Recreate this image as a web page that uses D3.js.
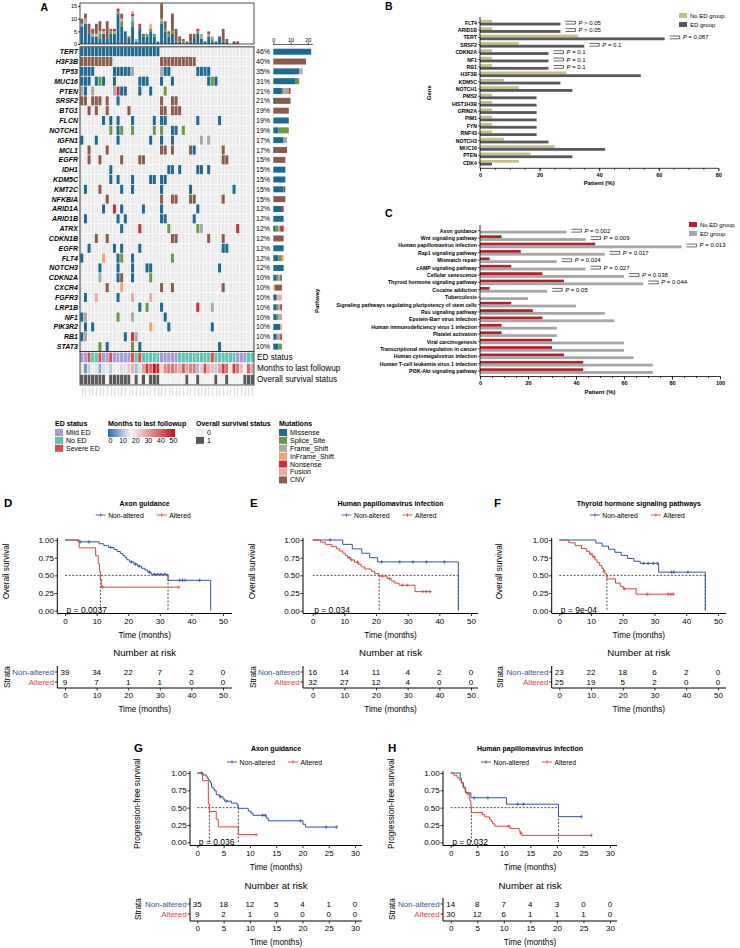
<!DOCTYPE html>
<html>
<head>
<meta charset="utf-8">
<script src="https://cdn.jsdelivr.net/npm/d3@7"></script>
<style>
  body { margin: 0; background: #fff; }
  svg { display: block; }
</style>
</head>
<body>
<svg id="fig" width="740" height="948"></svg>
<script>
// ---------------- panel A : oncoprint ----------------
var genesA = ["TERT", "H3F3B", "TP53", "MUC16", "PTEN", "SRSF2", "BTG1", "FLCN", "NOTCH1", "IGFN1", "MCL1",
    "EGFR", "IDH1", "KDM5C", "KMT2C", "NFKBIA", "ARID1A", "ARID1B", "ATRX", "CDKN1B", "EGFR", "FLT4",
    "NOTCH3", "CDKN2A", "CXCR4", "FGFR3", "LRP1B", "NF1", "PIK3R2", "RB1", "STAT3"];
var pctA = ["46%", "40%", "35%", "31%", "21%", "21%", "19%", "19%", "19%", "17%", "17%", "15%", "15%", "15%",
    "15%", "15%", "12%", "12%", "12%", "12%", "12%", "12%", "12%", "10%", "10%", "10%", "10%", "10%", "10%", "10%", "10%"];
// one character per sample: M missense, S splice, F frame shift, I inframe, N nonsense, U fusion, C CNV
var oncoRows = [
    "MMMMMMMMMMMMMMMMMMMMMM",
    "CCCCCCCCC.............CCCCCCCCCC",
    "MMMM.....MMMMMF.......FMM.......MMMM",
    "MMM.MSM..M......MMM...M..M.........MSM",
    "FM.F.....FNMM...M..M...S",
    "CC.CCC.C..M...........C..CC",
    "..C.C..C.....C........CC.CCC",
    "......M.M.M...M.....M.MM........M.....M",
    "........S.MS..S.....S.S..MM.S",
    "M...M.....M........M..M..M.......F.F",
    "..C....C..............CC.C....CM.......C",
    "..C..C.....C....CC.....................CC",
    "........M...............MM.M....MM.M",
    "........M.M...M....MM.MM",
    ".M...C.....M..M.......M.......M...........M",
    ".......C..............C..CC...CC.......C",
    "......M..N.M.....M....M.........M",
    ".M........M.M.........MM.......M",
    "...........M....N.......S.......SF.........N",
    "....C..C.................CC........C...C",
    "..M......M.M....M......................MM",
    "M.....I...MS..M..........S",
    ".....M....M...M...MM..................M",
    ".....F....MC..M....S",
    ".......C...I..........C..C.............C",
    ".M..U.....M...U....U",
    "................M.S...M.........N...F",
    "MF........S...F........M",
    ".M.M...............I....M...........M",
    "MF..........M.NF",
    ".....S.M......S.M.....................M"
].map(function(s) { return s.padEnd(48, "."); });

var mutTypes = ["Missense", "Splice_Site", "Frame_Shift", "InFrame_Shift", "Nonsense", "Fusion", "CNV"];
var mutCodes = ["M", "S", "F", "I", "N", "U", "C"];
var mutColors = ["#1c6a92", "#6a9a40", "#a9a9a9", "#f4a468", "#d8283a", "#f2a6a6", "#8b5a4c"];

var edStatus = "mmsnnsmmsmmmmmsnsnnnnnmmmmmnnnnnnnnnsnnnnnnmmmnn";
var edCodes = ["m", "n", "s"];
var edNames = ["Mild ED", "No ED", "Severe ED"];
var edColors = ["#a49cd2", "#5fc5b2", "#e04a4c"];
var monthsFollow = [20, 6, 12, 18, 15, 8, 14, 20, 12, 16, 19, 22, 15, 24, 27, 10, 14, 30, 46, 38,
    50, 47, 22, 33, 35, 36, 32, 28, 40, 30, 34, 36, 10, 24, 42, 28, 26, 12, 30, 44, 37, 20, 45, 36, 26, 18, 38, 30];
var osStatus = "111111101111110101011100000001001000010010000111";
var sampleIds = ("DIPG-01 DIPG-02 DIPG-03 DIPG-04 DIPG-05 DIPG-06 DIPG-07 DIPG-08 DIPG-09 DIPG-10 DIPG-11 DIPG-12 " +
    "DIPG-13 DIPG-14 DIPG-15 DIPG-16 DIPG-17 DIPG-18 DIPG-19 DIPG-20 DIPG-21 DIPG-22 DIPG-23 DIPG-24 " +
    "DIPG-25 DIPG-26 DIPG-27 DIPG-28 DIPG-29 DIPG-30 DIPG-31 DIPG-32 DIPG-33 DIPG-34 DIPG-35 DIPG-36 " +
    "DIPG-37 DIPG-38 DIPG-39 DIPG-40 DIPG-41 DIPG-42 DIPG-43 DIPG-44 DIPG-45 DIPG-46 DIPG-47 DIPG-48").split(" ");

// ---------------- panel B ----------------
var genesB = ["FLT4", "ARID1B", "TERT", "SRSF2", "CDKN2A", "NF1", "RB1", "H3F3B", "KDM5C", "NOTCH1", "PMS2",
    "HIST1H3B", "GRIN2A", "PIM1", "FYN", "RNF43", "NOTCH3", "MUC16", "PTEN", "CDK4"];
var noEdB = [4, 4, 33, 13, 4, 4, 4, 29, 8, 13, 4, 4, 4, 4, 4, 4, 8, 25, 17, 13];
var edB = [27, 27, 62, 35, 23, 23, 23, 54, 27, 31, 19, 19, 19, 19, 19, 19, 23, 42, 31, 4];
var pB = ["> 0.05", "> 0.05", "= 0.087", "= 0.1", "= 0.1", "= 0.1", "= 0.1", "", "", "", "", "", "", "", "", "", "", "", "", ""];

// ---------------- panel C ----------------
var pathwaysC = ["Axon guidance", "Wnt signaling pathway", "Human papillomavirus infection", "Rap1 signaling pathway",
    "Mismatch repair", "cAMP signaling pathway", "Cellular senescence", "Thyroid hormone signaling pathway",
    "Cocaine addiction", "Tuberculosis", "Signaling pathways regulating pluripotency of stem cells",
    "Ras signaling pathway", "Epstein-Barr virus infection", "Human immunodeficiency virus 1 infection",
    "Platelet activation", "Viral carcinogenesis", "Transcriptional misregulation in cancer",
    "Human cytomegalovirus infection", "Human T-cell leukemia virus 1 infection", "PI3K-Akt signaling pathway"];
var noEdC = [0, 9, 48, 17, 4, 13, 26, 35, 4, 0, 13, 22, 26, 9, 9, 30, 30, 35, 43, 43];
var edC = [36, 44, 84, 52, 32, 44, 60, 68, 28, 20, 40, 52, 56, 32, 32, 60, 60, 64, 72, 72];
var pC = ["= 0.002", "= 0.009", "= 0.013", "= 0.017", "= 0.024", "= 0.027", "= 0.038", "= 0.044", "= 0.05",
    "", "", "", "", "", "", "", "", "", "", ""];

// ---------------- survival panels D-H : [time, survival] steps ----------------
var kmD_non = [[0, 1], [4.2, 0.974], [10.8, 0.947], [12.3, 0.92], [13.8, 0.894], [15.5, 0.866], [16.5, 0.838],
    [17.5, 0.81], [18.3, 0.78], [19.0, 0.75], [19.6, 0.72], [20.4, 0.69], [21.8, 0.66], [23.0, 0.63], [24.2, 0.60],
    [25.3, 0.575], [26.2, 0.545], [27.2, 0.515], [32.6, 0.43], [46.1, 0]];
var kmD_nonCens = [4.8, 7.6, 14.5, 21.0, 22.3, 23.5, 26.8, 28.3, 29.4, 30.4, 31.6, 36.3, 37.2, 38.0, 42.6];
var kmD_alt = [[0, 1], [4.5, 0.889], [9.7, 0.778], [10.5, 0.667], [10.9, 0.556], [11.2, 0.444], [11.6, 0.333], [36, 0.333]];
var kmD_altCens = [11.9, 36.0];
var riskD_non = [39, 34, 22, 7, 2, 0];
var riskD_alt = [9, 7, 1, 1, 0, 0];

var kmE_non = [[0, 1], [9.5, 0.938], [12.5, 0.875], [15.5, 0.813], [18.0, 0.75], [20.5, 0.69], [46.0, 0]];
var kmE_nonCens = [5.5, 21.8, 27.5, 31.7, 35.9, 41.6];
var kmE_alt = [[0, 1], [2.5, 0.969], [4.0, 0.938], [6.0, 0.906], [7.5, 0.875], [8.5, 0.844], [9.5, 0.813],
    [10.3, 0.781], [11.0, 0.75], [12.0, 0.718], [13.2, 0.686], [14.5, 0.655], [15.3, 0.62], [16.4, 0.59],
    [18.5, 0.557], [19.6, 0.525], [21.0, 0.49], [23.5, 0.455], [24.8, 0.42], [25.9, 0.39], [27.3, 0.36],
    [32.3, 0.27], [37.5, 0.27]];
var kmE_altCens = [11.5, 12.3, 14.2, 22.0, 24.2, 28.3, 29.8, 34.8, 35.9, 37.0];
var riskE_non = [16, 14, 11, 4, 2, 0];
var riskE_alt = [32, 27, 12, 4, 0, 0];

var kmF_non = [[0, 1], [11.5, 0.957], [13.5, 0.913], [15.5, 0.87], [17.5, 0.826], [19.5, 0.783], [21.5, 0.739],
    [23.5, 0.70], [25.5, 0.67], [31.3, 0.545], [46.0, 0]];
var kmF_nonCens = [26.5, 28.0, 29.6, 30.9, 35.3, 36.1, 40.5];
var kmF_alt = [[0, 1], [3.0, 0.96], [5.0, 0.92], [7.0, 0.88], [8.5, 0.84], [9.5, 0.80], [10.5, 0.76],
    [11.2, 0.72], [11.9, 0.68], [12.7, 0.64], [13.4, 0.60], [14.0, 0.56], [14.4, 0.52], [15.0, 0.45],
    [17.7, 0.39], [19.2, 0.34], [20.2, 0.31], [24.2, 0.234], [36.0, 0.234]];
var kmF_altCens = [10.0, 11.0, 14.0, 20.5, 27.7, 34.3, 35.1, 35.9];
var riskF_non = [23, 22, 18, 6, 2, 0];
var riskF_alt = [25, 19, 5, 2, 0, 0];

var kmG_non = [[0, 1], [1.1, 0.971], [1.7, 0.943], [2.0, 0.914], [2.2, 0.886], [2.5, 0.857], [2.7, 0.80],
    [3.0, 0.771], [3.3, 0.743], [3.6, 0.686], [4.2, 0.657], [4.9, 0.625], [5.2, 0.594], [6.5, 0.565],
    [7.6, 0.535], [7.8, 0.49], [9.7, 0.45], [10.2, 0.42], [10.6, 0.39], [13.1, 0.35], [13.5, 0.31],
    [20.1, 0.26], [20.6, 0.22], [26.5, 0.22]];
var kmG_nonCens = [0.8, 4.4, 5.6, 12.4, 12.9, 19.6, 24.5, 26.5];
var kmG_alt = [[0, 1], [1.0, 0.889], [2.1, 0.556], [2.3, 0.444], [3.6, 0.333], [4.0, 0.222], [7.8, 0.111], [11.2, 0.111]];
var kmG_altCens = [11.2];
var riskG_non = [35, 18, 12, 5, 4, 1, 0];
var riskG_alt = [9, 2, 1, 0, 0, 0, 0];

var kmH_non = [[0, 1], [1.8, 0.929], [2.0, 0.857], [2.4, 0.786], [2.8, 0.714], [3.8, 0.643], [10.5, 0.55],
    [20.3, 0.37], [24.6, 0.37]];
var kmH_nonCens = [4.4, 7.0, 12.6, 13.7, 24.6];
var kmH_alt = [[0, 1], [0.6, 0.967], [1.2, 0.933], [1.6, 0.90], [2.0, 0.867], [2.3, 0.80], [2.7, 0.733],
    [3.0, 0.70], [3.5, 0.633], [3.6, 0.60], [3.8, 0.53], [3.9, 0.43], [6.0, 0.40], [6.4, 0.367], [7.3, 0.333],
    [7.6, 0.30], [7.9, 0.267], [8.3, 0.233], [11.2, 0.20], [12.9, 0.167], [13.1, 0.133], [13.4, 0.10], [26.5, 0.10]];
var kmH_altCens = [3.2, 10.9, 13.2, 26.5];
var riskH_non = [14, 8, 7, 4, 3, 0, 0];
var riskH_alt = [30, 12, 6, 1, 1, 1, 0];

// -----------------------------------------------------------------------------
var FONT = "'Liberation Sans', Arial, Helvetica, sans-serif";
var kmBlue = "#34559a",
    kmRed = "#e0463c";

var svg = d3.select("#fig").attr("font-family", FONT);
svg.append("rect").attr("width", 740).attr("height", 948).attr("fill", "#fff");

function label(parent, x, y, str, size, o) {
    o = o || {};
    var t = parent.append("text")
        .attr("x", x).attr("y", y)
        .attr("font-size", size)
        .attr("text-anchor", o.anchor || "start")
        .attr("dominant-baseline", "central")
        .attr("fill", o.fill || "#000")
        .text(str);
    if (o.bold) t.attr("font-weight", "bold");
    if (o.italic) t.attr("font-style", "italic");
    if (o.rotate) t.attr("transform", "rotate(-90," + x + "," + y + ")");
    return t;
}

function styleAxis(sel, size, bold) {
    sel.attr("font-family", FONT).attr("font-size", size);
    sel.selectAll("text").attr("fill", "#000").attr("font-weight", bold ? "bold" : null);
    sel.selectAll("line").attr("stroke", "#000").attr("stroke-width", 0.8);
    sel.select(".domain").remove();
}

/*****************************************************************************
 * Panel A
 */
var gA = svg.append("g");
var mutColor = d3.scaleOrdinal().domain(mutCodes).range(mutColors);
var xCol = d3.scaleBand().domain(d3.range(48)).range([80, 254]);
var yRow = d3.scaleBand().domain(d3.range(genesA.length)).range([46.8, 351.5]);

label(gA, 40.5, 6.5, "A", 10.5, { bold: true });

var cells = [];
oncoRows.forEach(function(row, i) {
    for (var j = 0; j < 48; j++) cells.push({ i: i, j: j, c: row[j] });
});

gA.append("g").selectAll("rect").data(cells).enter().append("rect")
    .attr("x", function(d) { return xCol(d.j); })
    .attr("y", function(d) { return yRow(d.i); })
    .attr("width", xCol.bandwidth())
    .attr("height", yRow.bandwidth())
    .attr("fill", "#ebebeb")
    .attr("stroke", "#fff")
    .attr("stroke-width", 0.5);

gA.append("g").selectAll("rect").data(cells.filter(function(d) { return d.c !== "."; })).enter().append("rect")
    .attr("x", function(d) { return xCol(d.j) + 0.3; })
    .attr("y", function(d) { return yRow(d.i) + 0.4; })
    .attr("width", xCol.bandwidth() - 0.6)
    .attr("height", yRow.bandwidth() - 0.8)
    .attr("fill", function(d) { return mutColor(d.c); });

gA.append("rect").attr("x", 80).attr("y", 46.8).attr("width", 174).attr("height", 304.7)
    .attr("fill", "none").attr("stroke", "#3a3a3a").attr("stroke-width", 1);

// gene names and frequencies
genesA.forEach(function(gname, i) {
    var cy = yRow(i) + yRow.bandwidth() / 2;
    label(gA, 78, cy, gname, 7, { anchor: "end", bold: true, italic: true });
    label(gA, 256, cy, pctA[i], 7);
});

// top bar chart (mutations per sample)
var colCounts = d3.range(48).map(function(j) {
    var o = { col: j };
    mutCodes.forEach(function(c) { o[c] = 0; });
    oncoRows.forEach(function(row) { if (row[j] !== ".") o[row[j]] += 1; });
    return o;
});
var yTop = d3.scaleLinear().domain([0, 16.2]).range([44, 3]);
gA.append("g").selectAll("g").data(d3.stack().keys(mutCodes)(colCounts)).enter().append("g")
    .attr("fill", function(d) { return mutColor(d.key); })
    .selectAll("rect").data(function(d) { return d; }).enter().append("rect")
    .attr("x", function(d) { return xCol(d.data.col) + 0.4; })
    .attr("width", xCol.bandwidth() - 0.8)
    .attr("y", function(d) { return yTop(d[1]); })
    .attr("height", function(d) { return yTop(d[0]) - yTop(d[1]); });
gA.append("rect").attr("x", 80).attr("y", 3).attr("width", 174).attr("height", 41)
    .attr("fill", "none").attr("stroke", "#3a3a3a").attr("stroke-width", 0.9);
gA.append("g").attr("transform", "translate(80,0)")
    .call(d3.axisLeft(yTop).tickValues([0, 5, 10, 15]).tickSize(2).tickPadding(1))
    .call(styleAxis, 5.5);

// right bar chart (mutations per gene)
var geneCounts = oncoRows.map(function(row, i) {
    var o = { row: i };
    mutCodes.forEach(function(c) { o[c] = 0; });
    row.split("").forEach(function(c) { if (c !== ".") o[c] += 1; });
    return o;
});
var xRight = d3.scaleLinear().domain([0, 23]).range([273.3, 312.9]);
gA.append("g").selectAll("g").data(d3.stack().keys(mutCodes)(geneCounts)).enter().append("g")
    .attr("fill", function(d) { return mutColor(d.key); })
    .selectAll("rect").data(function(d) { return d; }).enter().append("rect")
    .attr("x", function(d) { return xRight(d[0]); })
    .attr("width", function(d) { return xRight(d[1]) - xRight(d[0]); })
    .attr("y", function(d) { return yRow(d.data.row) + (yRow.bandwidth() - 6) / 2; })
    .attr("height", 6);
gA.append("line").attr("x1", 273.3).attr("x2", 312.9).attr("y1", 44.5).attr("y2", 44.5)
    .attr("stroke", "#000").attr("stroke-width", 0.6);
gA.append("g").attr("transform", "translate(0,44.5)")
    .call(d3.axisTop(xRight).tickValues([0, 10, 20]).tickSize(2).tickPadding(1))
    .call(styleAxis, 5.5);

// annotation rows
var annY = [352.5, 363.5, 374.5];
var monthColor = d3.scaleLinear().domain([0, 17, 50]).range(["#2a66b0", "#f7f7f7", "#c3141c"]);
var edColor = d3.scaleOrdinal().domain(edCodes).range(edColors);
var annCells = d3.range(48).map(function(j) {
    return { j: j, ed: edStatus[j], m: monthsFollow[j], os: osStatus[j] };
});
var annG = gA.append("g");
annG.selectAll(".ed").data(annCells).enter().append("rect")
    .attr("x", function(d) { return xCol(d.j); }).attr("y", annY[0])
    .attr("width", xCol.bandwidth()).attr("height", 10)
    .attr("fill", function(d) { return edColor(d.ed); });
annG.selectAll(".mo").data(annCells).enter().append("rect")
    .attr("x", function(d) { return xCol(d.j); }).attr("y", annY[1])
    .attr("width", xCol.bandwidth()).attr("height", 10)
    .attr("fill", function(d) { return monthColor(d.m); });
annG.selectAll(".os").data(annCells).enter().append("rect")
    .attr("x", function(d) { return xCol(d.j); }).attr("y", annY[2])
    .attr("width", xCol.bandwidth()).attr("height", 10)
    .attr("fill", function(d) { return d.os === "1" ? "#585858" : "#f1f1f1"; });
annG.selectAll("rect").attr("stroke", "#fff").attr("stroke-width", 0.4);
gA.append("rect").attr("x", 80).attr("y", 351.5).attr("width", 174).attr("height", 33.5)
    .attr("fill", "none").attr("stroke", "#3a3a3a").attr("stroke-width", 0.9);
label(gA, 257, annY[0] + 5, "ED status", 8.2);
label(gA, 257, annY[1] + 5, "Months to last followup", 8.2);
label(gA, 257, annY[2] + 5, "Overall survival status", 8.2);

// sample ids
gA.append("g").selectAll("text").data(sampleIds).enter().append("text")
    .attr("transform", function(d, j) {
        return "translate(" + (xCol(j) + xCol.bandwidth() / 2 + 0.8) + ",386.5) rotate(-90)";
    })
    .attr("text-anchor", "end")
    .attr("font-size", 2.4)
    .attr("fill", "#777")
    .text(function(d) { return d; });

// legends
var legY = 423,
    legStep = 7.9;
label(gA, 55, legY, "ED status", 7, { bold: true });
edNames.forEach(function(n, k) {
    var y = legY + legStep * (k + 1.2);
    gA.append("rect").attr("x", 55).attr("y", y - 3.5).attr("width", 8).attr("height", 7).attr("fill", edColors[k]);
    label(gA, 66, y, n, 7);
});

label(gA, 108, legY, "Months to last followup", 7, { bold: true });
var grad = svg.append("defs").append("linearGradient").attr("id", "monthsGrad");
[0, 10, 17, 25, 35, 50].forEach(function(v) {
    grad.append("stop").attr("offset", (v / 50 * 100) + "%").attr("stop-color", monthColor(v));
});
var xLegM = d3.scaleLinear().domain([0, 50]).range([110, 173]);
gA.append("rect").attr("x", 108).attr("y", 429).attr("width", 67).attr("height", 8).attr("fill", "url(#monthsGrad)");
gA.append("g").attr("transform", "translate(0,437)")
    .call(d3.axisBottom(xLegM).tickValues([0, 10, 20, 30, 40, 50]).tickSize(0).tickPadding(1.5))
    .call(styleAxis, 7);

label(gA, 196, legY, "Overall survival status", 7, { bold: true });
["0", "1"].forEach(function(n, k) {
    var y = legY + legStep * (k + 1.2);
    gA.append("rect").attr("x", 196).attr("y", y - 3.5).attr("width", 8).attr("height", 7)
        .attr("fill", k === 0 ? "#f1f1f1" : "#585858");
    label(gA, 207, y, n, 7);
});

label(gA, 279, legY, "Mutations", 7, { bold: true });
mutTypes.forEach(function(n, k) {
    var y = legY + legStep * (k + 1.2);
    gA.append("rect").attr("x", 279).attr("y", y - 3.5).attr("width", 8).attr("height", 7).attr("fill", mutColors[k]);
    label(gA, 290, y, n, 7);
});

/*****************************************************************************
 * Panels B and C : grouped horizontal bars
 */
function drawGroupBars(cfg) {
    var g = svg.append("g");
    var x = d3.scaleLinear().domain([0, cfg.xmax]).range([480, cfg.xRight]);
    var y = d3.scaleBand().domain(cfg.cats).range(cfg.yRange);
    var half = 2.8;

    label(g, cfg.letterX, cfg.letterY, cfg.letter, 10.5, { bold: true });

    cfg.cats.forEach(function(c, i) {
        var cy = y(c) + y.bandwidth() / 2;
        if (cfg.noEd[i] > 0) {
            g.append("rect").attr("x", x(0)).attr("y", cy - half)
                .attr("width", x(cfg.noEd[i]) - x(0)).attr("height", half).attr("fill", cfg.colors[0]);
        }
        g.append("rect").attr("x", x(0)).attr("y", cy)
            .attr("width", x(cfg.ed[i]) - x(0)).attr("height", half).attr("fill", cfg.colors[1]);
        g.append("line").attr("x1", 478).attr("x2", 480).attr("y1", cy).attr("y2", cy)
            .attr("stroke", "#000").attr("stroke-width", 0.6);
        label(g, 477, cy, c, 5.2, { anchor: "end", bold: true });

        if (cfg.pvals[i]) {
            var bx = x(Math.max(cfg.ed[i], cfg.noEd[i])) + 5;
            g.append("path")
                .attr("d", "M" + bx + "," + (cy - 1.4) + "H" + (bx + 10) + "V" + (cy + 1.4) + "H" + bx)
                .attr("fill", "none").attr("stroke", "#000").attr("stroke-width", 0.6);
            var t = g.append("text").attr("x", bx + 13).attr("y", cy)
                .attr("font-size", 6).attr("dominant-baseline", "central");
            t.append("tspan").attr("font-style", "italic").text("P");
            t.append("tspan").text(" " + cfg.pvals[i]);
        }
    });

    // axes
    g.append("line").attr("x1", 480).attr("x2", 480).attr("y1", cfg.yRange[0] - 2).attr("y2", cfg.axisY)
        .attr("stroke", "#000").attr("stroke-width", 0.8);
    g.append("line").attr("x1", 480).attr("x2", cfg.xRight).attr("y1", cfg.axisY).attr("y2", cfg.axisY)
        .attr("stroke", "#000").attr("stroke-width", 0.8);
    g.append("g").attr("transform", "translate(0," + cfg.axisY + ")")
        .call(d3.axisBottom(x).tickValues(d3.range(0, cfg.xmax + 1, 5)).tickSize(1.5).tickFormat(""))
        .call(styleAxis, 5.5);
    g.append("g").attr("transform", "translate(0," + cfg.axisY + ")")
        .call(d3.axisBottom(x).tickValues(d3.range(0, cfg.xmax + 1, 20)).tickSize(3).tickPadding(1.5))
        .call(styleAxis, 5.5, true);

    label(g, (480 + cfg.xRight) / 2, cfg.axisY + 15, "Patient (%)", 6, { anchor: "middle", bold: true });
    label(g, cfg.yTitleX, (cfg.yRange[0] + cfg.yRange[1]) / 2, cfg.yTitle, 6, { anchor: "middle", bold: true, rotate: true });

    // legend
    ["No ED group", "ED group"].forEach(function(n, k) {
        var ly = cfg.legY + k * 9;
        g.append("rect").attr("x", cfg.legX).attr("y", ly - 2.5).attr("width", 8).attr("height", 5).attr("fill", cfg.colors[k]);
        label(g, cfg.legX + 11, ly, n, 6);
    });
}

drawGroupBars({
    letter: "B", letterX: 385, letterY: 6,
    cats: genesB, noEd: noEdB, ed: edB, pvals: pB,
    xmax: 80, xRight: 718.3, yRange: [19, 166.4], axisY: 168.3,
    colors: ["#c6be88", "#595959"],
    yTitle: "Gene", yTitleX: 429,
    legX: 679, legY: 15.5
});

drawGroupBars({
    letter: "C", letterX: 385, letterY: 213,
    cats: pathwaysC, noEd: noEdC, ed: edC, pvals: pC,
    xmax: 100, xRight: 720, yRange: [227, 374.8], axisY: 376.5,
    colors: ["#b3212b", "#a6a6a6"],
    yTitle: "Pathway", yTitleX: 317,
    legX: 689, legY: 224.5
});

/*****************************************************************************
 * Panels D-H : Kaplan-Meier curves with risk tables
 */
var layTop = { titleY: 503, legendY: 515, v1: 540, v0: 610.7, axisY: 613.5, xlabY: 635, narY: 652,
    riskY: [672, 682], riskAxisY: 688, riskXlabY: 709 };
var layBot = { titleY: 748, legendY: 762, v1: 773, v0: 842.3, axisY: 845.5, xlabY: 867, narY: 885,
    riskY: [904, 914], riskAxisY: 921, riskXlabY: 942 };

function survAt(steps, t) {
    var s = 1;
    steps.forEach(function(d) { if (d[0] <= t) s = d[1]; });
    return s;
}

function medianOf(steps) {
    var m = steps.find(function(d) { return d[1] <= 0.5; });
    return m ? m[0] : null;
}

function drawKM(p, L) {
    var g = svg.append("g");
    var xT = d3.scaleLinear().domain([0, p.tmax]).range([p.t0, p.t1]);
    var yS = d3.scaleLinear().domain([0, 1]).range([L.v0, L.v1]);
    var cx = (p.axisX + p.right) / 2;
    var ticks = d3.range(0, p.tmax + 1, p.step);

    label(g, p.letterX, L.titleY, p.letter, 11.5, { bold: true });
    label(g, cx, L.titleY, p.title, 7, { bold: true, anchor: "middle" });

    // legend
    var lg = g.append("g").attr("transform", "translate(" + (cx - 49) + "," + L.legendY + ")");
    [[0, kmBlue, "Non-altered"], [61, kmRed, "Altered"]].forEach(function(it) {
        lg.append("line").attr("x1", it[0]).attr("x2", it[0] + 10).attr("y1", 0).attr("y2", 0)
            .attr("stroke", it[1]).attr("stroke-width", 0.9);
        lg.append("line").attr("x1", it[0] + 5).attr("x2", it[0] + 5).attr("y1", -1.6).attr("y2", 1.6)
            .attr("stroke", it[1]).attr("stroke-width", 0.9);
        label(lg, it[0] + 12.5, 0, it[2], 6.8);
    });

    // axes
    g.append("line").attr("x1", p.axisX).attr("x2", p.axisX).attr("y1", L.v1 - 2).attr("y2", L.axisY)
        .attr("stroke", "#000").attr("stroke-width", 1);
    g.append("line").attr("x1", p.axisX).attr("x2", p.right).attr("y1", L.axisY).attr("y2", L.axisY)
        .attr("stroke", "#000").attr("stroke-width", 1);
    g.append("g").attr("transform", "translate(" + p.axisX + ",0)")
        .call(d3.axisLeft(yS).tickValues([0, 0.25, 0.5, 0.75, 1]).tickFormat(d3.format(".2f")).tickSize(2.5).tickPadding(0.8))
        .call(styleAxis, 8);
    g.append("g").attr("transform", "translate(0," + L.axisY + ")")
        .call(d3.axisBottom(xT).tickValues(ticks).tickSize(2.5).tickPadding(2))
        .call(styleAxis, 8);
    label(g, cx, L.xlabY, "Time (months)", 8.2, { anchor: "middle" });
    label(g, p.ylabX, (L.v0 + L.v1) / 2 - 4, p.ylab, 8.2, { anchor: "middle", rotate: true });

    // median lines
    var meds = [medianOf(p.non), medianOf(p.alt)].filter(function(m) { return m !== null; });
    var mg = g.append("g").attr("stroke", "#000").attr("stroke-width", 0.7).attr("stroke-dasharray", "2,1.6");
    if (meds.length) {
        mg.append("line").attr("x1", xT(0)).attr("x2", xT(d3.max(meds))).attr("y1", yS(0.5)).attr("y2", yS(0.5));
        meds.forEach(function(m) {
            mg.append("line").attr("x1", xT(m)).attr("x2", xT(m)).attr("y1", yS(0.5)).attr("y2", yS(0));
        });
    }

    // curves
    var line = d3.line()
        .x(function(d) { return xT(d[0]); })
        .y(function(d) { return yS(d[1]); })
        .curve(d3.curveStepAfter);
    [[p.non, p.nonCens, kmBlue], [p.alt, p.altCens, kmRed]].forEach(function(c) {
        g.append("path").attr("d", line(c[0])).attr("fill", "none")
            .attr("stroke", c[2]).attr("stroke-width", 1);
        g.append("g").selectAll("path").data(c[1]).enter().append("path")
            .attr("d", function(t) {
                var px = xT(t),
                    py = yS(survAt(c[0], t));
                return "M" + px + "," + (py - 1.7) + "V" + (py + 1.7) + "M" + (px - 1.5) + "," + py + "H" + (px + 1.5);
            })
            .attr("stroke", c[2]).attr("stroke-width", 0.8);
    });

    label(g, p.t0 + 1.5, L.v0 - 0.5, "p = " + p.pval, 8.5);

    // risk table
    label(g, cx, L.narY, "Number at risk", 9.7, { anchor: "middle" });
    g.append("line").attr("x1", p.axisX).attr("x2", p.axisX).attr("y1", L.riskY[0] - 6).attr("y2", L.riskAxisY)
        .attr("stroke", "#000").attr("stroke-width", 1);
    g.append("line").attr("x1", p.axisX).attr("x2", p.right).attr("y1", L.riskAxisY).attr("y2", L.riskAxisY)
        .attr("stroke", "#000").attr("stroke-width", 1);
    g.append("g").attr("transform", "translate(0," + L.riskAxisY + ")")
        .call(d3.axisBottom(xT).tickValues(ticks).tickSize(2.5).tickPadding(2))
        .call(styleAxis, 8);
    label(g, cx, L.riskXlabY, "Time (months)", 8.2, { anchor: "middle" });
    label(g, p.ylabX, (L.riskY[0] + L.riskY[1]) / 2, "Strata", 8.2, { anchor: "middle", rotate: true });
    [[p.riskNon, kmBlue, "Non-altered"], [p.riskAlt, kmRed, "Altered"]].forEach(function(r, k) {
        var ry = L.riskY[k];
        g.append("line").attr("x1", p.axisX - 2.5).attr("x2", p.axisX).attr("y1", ry).attr("y2", ry)
            .attr("stroke", "#000").attr("stroke-width", 0.8);
        label(g, p.axisX - 3.3, ry, r[2], 8, { anchor: "end", fill: r[1] });
        r[0].forEach(function(n, i) {
            label(g, xT(ticks[i]), ry, String(n), 8, { anchor: "middle" });
        });
    });
}

drawKM({ letter: "D", letterX: 4, title: "Axon guidance", ylab: "Overall survival", ylabX: 7,
    axisX: 57.3, t0: 65, t1: 223, right: 232, tmax: 50, step: 10,
    non: kmD_non, nonCens: kmD_nonCens, alt: kmD_alt, altCens: kmD_altCens,
    riskNon: riskD_non, riskAlt: riskD_alt, pval: "0.0037" }, layTop);
drawKM({ letter: "E", letterX: 250, title: "Human papillomavirus infection", ylab: "Overall survival", ylabX: 253,
    axisX: 303, t0: 312.7, t1: 471, right: 478, tmax: 50, step: 10,
    non: kmE_non, nonCens: kmE_nonCens, alt: kmE_alt, altCens: kmE_altCens,
    riskNon: riskE_non, riskAlt: riskE_alt, pval: "0.034" }, layTop);
drawKM({ letter: "F", letterX: 494, title: "Thyroid hormone signaling pathways", ylab: "Overall survival", ylabX: 500,
    axisX: 551.7, t0: 559.3, t1: 718, right: 726, tmax: 50, step: 10,
    non: kmF_non, nonCens: kmF_nonCens, alt: kmF_alt, altCens: kmF_altCens,
    riskNon: riskF_non, riskAlt: riskF_alt, pval: "9e-04" }, layTop);
drawKM({ letter: "G", letterX: 134, title: "Axon guidance", ylab: "Progression-free survival", ylabX: 138,
    axisX: 190, t0: 197.3, t1: 355, right: 362, tmax: 30, step: 5,
    non: kmG_non, nonCens: kmG_nonCens, alt: kmG_alt, altCens: kmG_altCens,
    riskNon: riskG_non, riskAlt: riskG_alt, pval: "0.036" }, layBot);
drawKM({ letter: "H", letterX: 388, title: "Human papillomavirus infection", ylab: "Progression-free survival", ylabX: 392,
    axisX: 443, t0: 450.7, t1: 610, right: 617, tmax: 30, step: 5,
    non: kmH_non, nonCens: kmH_nonCens, alt: kmH_alt, altCens: kmH_altCens,
    riskNon: riskH_non, riskAlt: riskH_alt, pval: "0.032" }, layBot);
</script>
</body>
</html>
